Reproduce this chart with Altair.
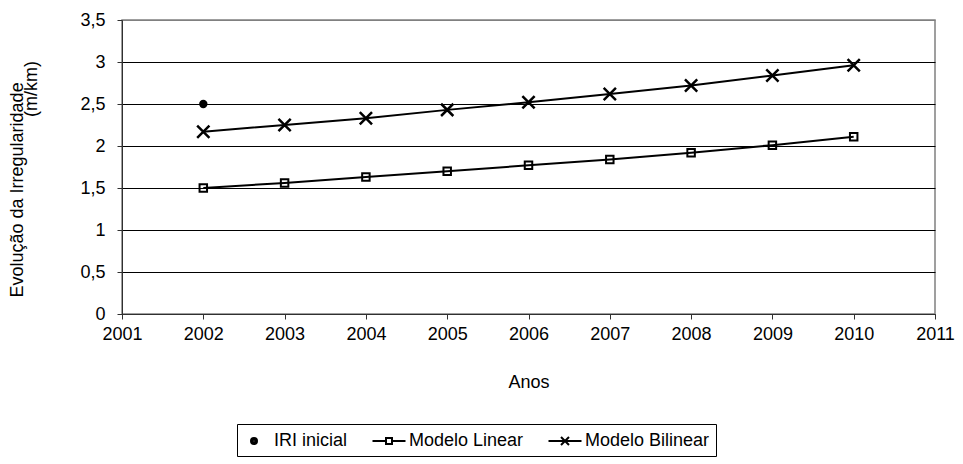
import altair as alt
import pandas as pd

# Series values (IRI in m/km) by year
anos = [2002, 2003, 2004, 2005, 2006, 2007, 2008, 2009, 2010]
modelo_linear = [1.50, 1.56, 1.63, 1.70, 1.77, 1.84, 1.92, 2.01, 2.11]
modelo_bilinear = [2.17, 2.25, 2.33, 2.43, 2.52, 2.62, 2.72, 2.84, 2.96]
iri_inicial_ano = [2002]
iri_inicial = [2.50]

series = ["IRI inicial", "Modelo Linear", "Modelo Bilinear"]
x_ticks = list(range(2001, 2012))
y_ticks = [0, 0.5, 1, 1.5, 2, 2.5, 3, 3.5]

rows = []
for a, v in zip(iri_inicial_ano, iri_inicial):
    rows.append({"ano": a, "valor": v, "serie": "IRI inicial"})
for a, v in zip(anos, modelo_linear):
    rows.append({"ano": a, "valor": v, "serie": "Modelo Linear"})
for a, v in zip(anos, modelo_bilinear):
    rows.append({"ano": a, "valor": v, "serie": "Modelo Bilinear"})
df = pd.DataFrame(rows)

FONT = "Liberation Sans"
FS = 18

x_enc = alt.X(
    "ano:Q",
    scale=alt.Scale(domain=[2001, 2011], nice=False),
    axis=alt.Axis(
        values=x_ticks, format="d", title="Anos", grid=False,
        labelFlush=False,
        domainColor="#303030", tickColor="#303030", tickSize=5,
        labelPadding=6, titlePadding=30,
    ),
)
y_enc = alt.Y(
    "valor:Q",
    scale=alt.Scale(domain=[0, 3.5], nice=False),
    axis=alt.Axis(
        values=y_ticks,
        labelExpr="replace(toString(datum.value), '.', ',')",
        labelFlush=False,
        title="Evolução da Irregularidade",
        titleAngle=-90, titleAlign="left", titleBaseline="top",
        titleX=-114, titleY=277,
        grid=True, gridWidth=1,
        gridColor=alt.condition("datum.value >= 3.5", alt.value("#808080"), alt.value("black")),
        domainColor="#303030", tickColor="#303030", tickSize=5,
        labelPadding=12,
    ),
)

base = alt.Chart(df)

lines = base.mark_line(color="black", strokeWidth=2).encode(
    x=x_enc, y=y_enc, detail="serie:N"
).transform_filter(alt.datum.serie != "IRI inicial")

circulo = base.mark_circle(color="black", size=70, opacity=1).encode(
    x="ano:Q", y="valor:Q"
).transform_filter(alt.datum.serie == "IRI inicial")

quadrado = base.mark_square(
    filled=False, stroke="black", strokeWidth=2, size=56, opacity=1
).encode(x="ano:Q", y="valor:Q").transform_filter(alt.datum.serie == "Modelo Linear")

xis = base.mark_point(
    shape="M-1,-1L1,1M-1,1L1,-1", filled=False, color="black",
    strokeWidth=2.5, size=150, opacity=1,
).encode(x="ano:Q", y="valor:Q").transform_filter(alt.datum.serie == "Modelo Bilinear")

# Legend symbols: marker drawn on a short line segment (unit = 10 px)
leg_paths = [
    "M0,-0.3A0.3,0.3 0 1,1 0,0.3A0.3,0.3 0 1,1 0,-0.3Z"
    "M0,-0.18A0.18,0.18 0 1,1 0,0.18A0.18,0.18 0 1,1 0,-0.18Z"
    "M0,-0.06A0.06,0.06 0 1,1 0,0.06A0.06,0.06 0 1,1 0,-0.06Z",
    "M-1.65,0H-0.3M0.3,0H1.65M-0.3,-0.3H0.3V0.3H-0.3Z",
    "M-1.65,0H1.65M-0.4,-0.4L0.4,0.4M-0.4,0.4L0.4,-0.4",
]
legenda = base.mark_point(
    size=400, strokeWidth=2, color="black", filled=False, opacity=1
).encode(
    x="ano:Q", y="valor:Q",
    shape=alt.Shape(
        "serie:N",
        scale=alt.Scale(domain=series, range=leg_paths),
        legend=alt.Legend(
            title=None, orient="none", legendX=115, legendY=404,
            direction="horizontal", columns=3,
            strokeColor="black", fillColor="white", padding=6,
            labelFont=FONT, labelFontSize=FS, labelColor="black",
            labelOffset=9, columnPadding=20,
            symbolSize=400, symbolStrokeWidth=2, symbolStrokeColor="black",
            symbolOpacity=1,
        ),
    ),
).transform_filter("false")

chart = (
    alt.layer(lines, circulo, quadrado, xis, legenda)
    .properties(
        width=813, height=294,
        background="white",
        autosize=alt.AutoSizeParams(type="none"),
        padding={"left": 122, "top": 20, "right": 28, "bottom": 150},
        title=alt.TitleParams(
            "(m/km)", orient="left", anchor="end", font=FONT, fontSize=FS,
            fontWeight="normal", color="black", offset=-33, dx=-50, dy=0,
        ),
    )
    .configure_view(stroke="#808080", strokeWidth=1.5)
    .configure_axis(
        labelFont=FONT, labelFontSize=FS, labelColor="black",
        titleFont=FONT, titleFontSize=FS, titleFontWeight="normal", titleColor="black",
    )
)

chart.save("out.html", embed_options={"renderer": "svg", "actions": False})
